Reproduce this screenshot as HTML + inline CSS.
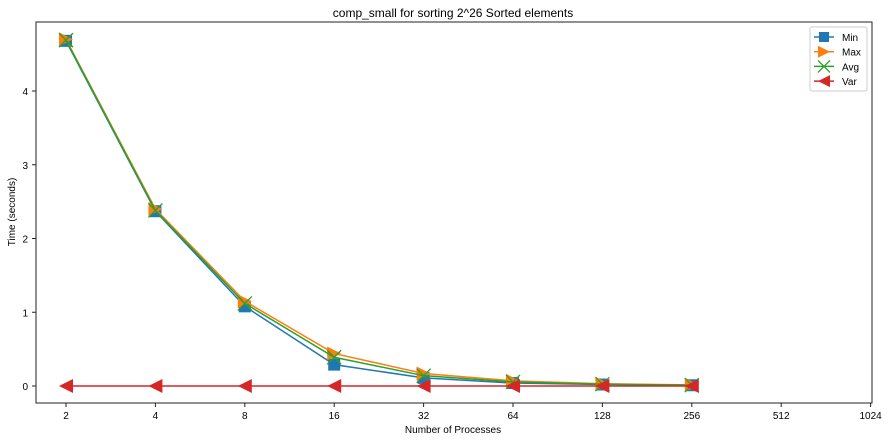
<!DOCTYPE html>
<html><head><meta charset="utf-8"><style>
body{margin:0;background:#fff}
svg{display:block;font-family:"Liberation Sans","DejaVu Sans",sans-serif}
</style></head><body>
<svg id="chart" width="891" height="441">
<rect width="891" height="441" fill="#fff"/>
<text x="453" y="17" text-anchor="middle" font-size="12">comp_small for sorting 2^26 Sorted elements</text>
<g id="grid"></g>
<g id="series"></g>
<rect x="36" y="22" width="836" height="381" fill="none" stroke="#222" stroke-width="1"/>
<text x="453" y="433" text-anchor="middle" font-size="10">Number of Processes</text>
<text transform="translate(15,212) rotate(-90)" text-anchor="middle" font-size="10">Time (seconds)</text>
<g id="legend"></g>
</svg>
<script>
const categories=[2,4,8,16,32,64,128,256];
const xTicks=[2,4,8,16,32,64,128,256,512,1024];
const yTicks=[0,1,2,3,4];
const minVals=[4.68,2.37,1.08,0.29,0.11,0.04,0.02,0.01];
const maxVals=[4.70,2.40,1.15,0.44,0.17,0.07,0.03,0.015];
const avgVals=[4.69,2.38,1.12,0.39,0.14,0.055,0.025,0.012];
const varVals=[0,0,0,0,0,0,0,0];
const NS="http://www.w3.org/2000/svg";
const X=v=>66+89.4*(Math.log2(v)-1);
const Y=v=>386-73.75*v;
const svg=document.getElementById('chart');
const grid=document.getElementById('grid');
function mk(t,a,p){const e=document.createElementNS(NS,t);for(const k in a)e.setAttribute(k,a[k]);p.appendChild(e);return e;}
xTicks.forEach(v=>{
 const l=mk('line',{x1:X(v),x2:X(v),y1:403,y2:407,stroke:'#222'},grid);
 
 
 const t=mk('text',{x:X(v),y:419,'text-anchor':'middle','font-size':10},grid);t.textContent=v;
 
 
});
yTicks.forEach(v=>{
 const l=mk('line',{x1:32,x2:36,y1:Y(v),y2:Y(v),stroke:'#222'},grid);
 
 
 const t=mk('text',{x:28,y:Y(v)+4,'text-anchor':'end','font-size':10},grid);t.textContent=v;
 
 
});
function marker(kind,cx,cy,c,s,p){
 let e;
 if(kind==='sq')e=mk('rect',{x:cx-s,y:cy-s,width:2*s,height:2*s,fill:c},p);
 else if(kind==='tr')e=mk('polygon',{points:`${cx+s},${cy} ${cx-s},${cy-s} ${cx-s},${cy+s}`,fill:c},p);
 else if(kind==='tl')e=mk('polygon',{points:`${cx-s},${cy} ${cx+s},${cy-s} ${cx+s},${cy+s}`,fill:c},p);
 else e=mk('path',{d:`M${cx-s} ${cy-s}L${cx+s} ${cy+s}M${cx-s} ${cy+s}L${cx+s} ${cy-s}`,stroke:c,'stroke-width':1.3,fill:'none'},p);
 return e;
}
const seriesDefs=[
 {name:'Min',vals:minVals,c:'#1f77b4',m:'sq',s:6},
 {name:'Max',vals:maxVals,c:'#ff7f0e',m:'tr',s:7},
 {name:'Avg',vals:avgVals,c:'#2ca02c',m:'x',s:7},
 {name:'Var',vals:varVals,c:'#d62728',m:'tl',s:7}
];
const sg=document.getElementById('series');
seriesDefs.forEach(d=>{
 const g=mk('g',{},sg);
 
 
 const pl=mk('polyline',{points:categories.map((c,i)=>X(c)+','+Y(d.vals[i])).join(' '),fill:'none',stroke:d.c,'stroke-width':1.5},g);
 
 
 categories.forEach((c,i)=>{
  const m=marker(d.m,X(c),Y(d.vals[i]),d.c,d.s,g);
  
  
 });
});
const lg=document.getElementById('legend');


mk('rect',{x:810,y:27,width:57,height:64,rx:2,fill:'#fff',stroke:'#ccc'},lg);
seriesDefs.forEach((d,i)=>{
 const y=37+i*14.7;
 const g=mk('g',{},lg);
 
 
 mk('line',{x1:814,x2:834,y1:y,y2:y,stroke:d.c,'stroke-width':1.5},g);
 marker(d.m,824,y,d.c,d.s-1,g);
 const t=mk('text',{x:842,y:y+4,'font-size':10},g);t.textContent=d.name;
});
</script>
</body></html>
